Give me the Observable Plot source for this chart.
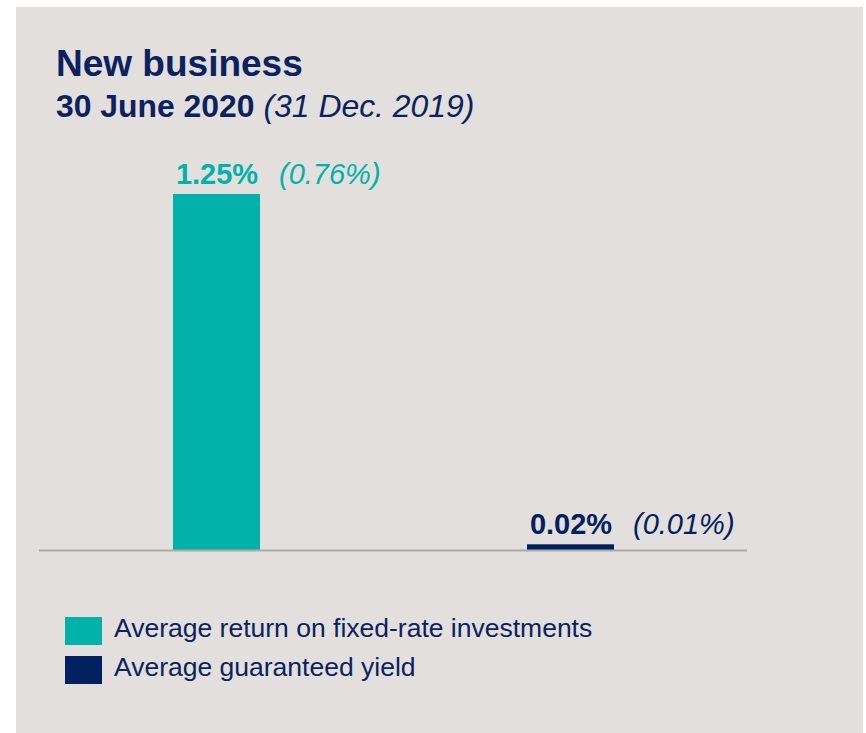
<!DOCTYPE html>
<html>
<head>
<meta charset="utf-8">
<script src="https://cdn.jsdelivr.net/npm/d3@7"></script>
<script src="https://cdn.jsdelivr.net/npm/@observablehq/plot@0.6"></script>
<style>
  html, body { margin: 0; padding: 0; background: #ffffff; }
  body { width: 866px; height: 733px; position: relative; overflow: hidden;
         font-family: "Liberation Sans", Arial, Helvetica, sans-serif; }
  #panel { position: absolute; left: 16px; top: 7px; width: 847px; height: 726px; background: #e3dfdd; }
  .abs { position: absolute; line-height: 1; white-space: nowrap; color: #0a2360; }
  #title { left: 40px; top: 37.5px; font-size: 37px; font-weight: bold; }
  #subtitle { left: 40px; top: 83.5px; font-size: 31.9px; font-weight: bold; }
  #subtitle i { font-weight: normal; }
  #chart { position: absolute; left: 0; top: 133px; }
  .sw { position: absolute; width: 37px; height: 28px; }
  .lt { font-size: 26.5px; }
</style>
</head>
<body>
<div id="panel">
  <div id="title" class="abs"></div>
  <div id="subtitle" class="abs"></div>
  <div id="chart"></div>
  <div id="legend"></div>
</div>
<script>
const titleText = "New business";
const subtitleCurrent = "30 June 2020";
const subtitlePrior = "(31 Dec. 2019)";
const categories = ["Average return on fixed-rate investments", "Average guaranteed yield"];
const values2020 = [1.25, 0.02];
const values2019 = [0.76, 0.01];
const colors = ["#00b2a9", "#002060"];

document.getElementById("title").textContent = titleText;
const sub = document.getElementById("subtitle");
sub.appendChild(document.createTextNode(subtitleCurrent + " "));
const it = document.createElement("i");
it.textContent = subtitlePrior;
sub.appendChild(it);

const data = categories.map((c, i) => ({key: c, value: values2020[i], prior: values2019[i]}));

const chart = Plot.plot({
  width: 847,
  height: 430,
  marginLeft: 23,
  marginRight: 116,
  marginTop: 54,
  marginBottom: 20,
  style: {background: "transparent", fontFamily: "'Liberation Sans', Arial, sans-serif", overflow: "visible"},
  x: {axis: null, domain: categories, paddingInner: 0.7546, paddingOuter: 0.376},
  y: {axis: null, domain: [0, 1.25]},
  color: {domain: categories, range: colors},
  marks: [
    Plot.barY(data, {x: "key", y: "value", fill: "key"}),
    Plot.ruleY([0], {stroke: "#b1aaa6", strokeWidth: 2}),
    Plot.text(data, {x: "key", y: "value", text: d => d.value.toFixed(2) + "%", fill: "key",
      fontSize: 29, fontWeight: "bold", textAnchor: "middle", lineAnchor: "bottom", dy: -11}),
    Plot.text(data, {x: "key", y: "value", text: d => "(" + d.prior.toFixed(2) + "%)", fill: "key",
      fontSize: 29, fontStyle: "italic", textAnchor: "start", lineAnchor: "bottom", dx: 62, dy: -11})
  ]
});
document.getElementById("chart").appendChild(chart);

const legend = document.getElementById("legend");
const rowTops = [610, 649];
categories.forEach((c, i) => {
  const sw = document.createElement("div");
  sw.className = "sw";
  sw.style.left = "49px";
  sw.style.top = rowTops[i] + "px";
  sw.style.background = colors[i];
  legend.appendChild(sw);
  const t = document.createElement("div");
  t.className = "abs lt";
  t.style.left = "98px";
  t.style.top = (rowTops[i] - 2) + "px";
  t.textContent = c;
  legend.appendChild(t);
});
</script>
</body>
</html>
